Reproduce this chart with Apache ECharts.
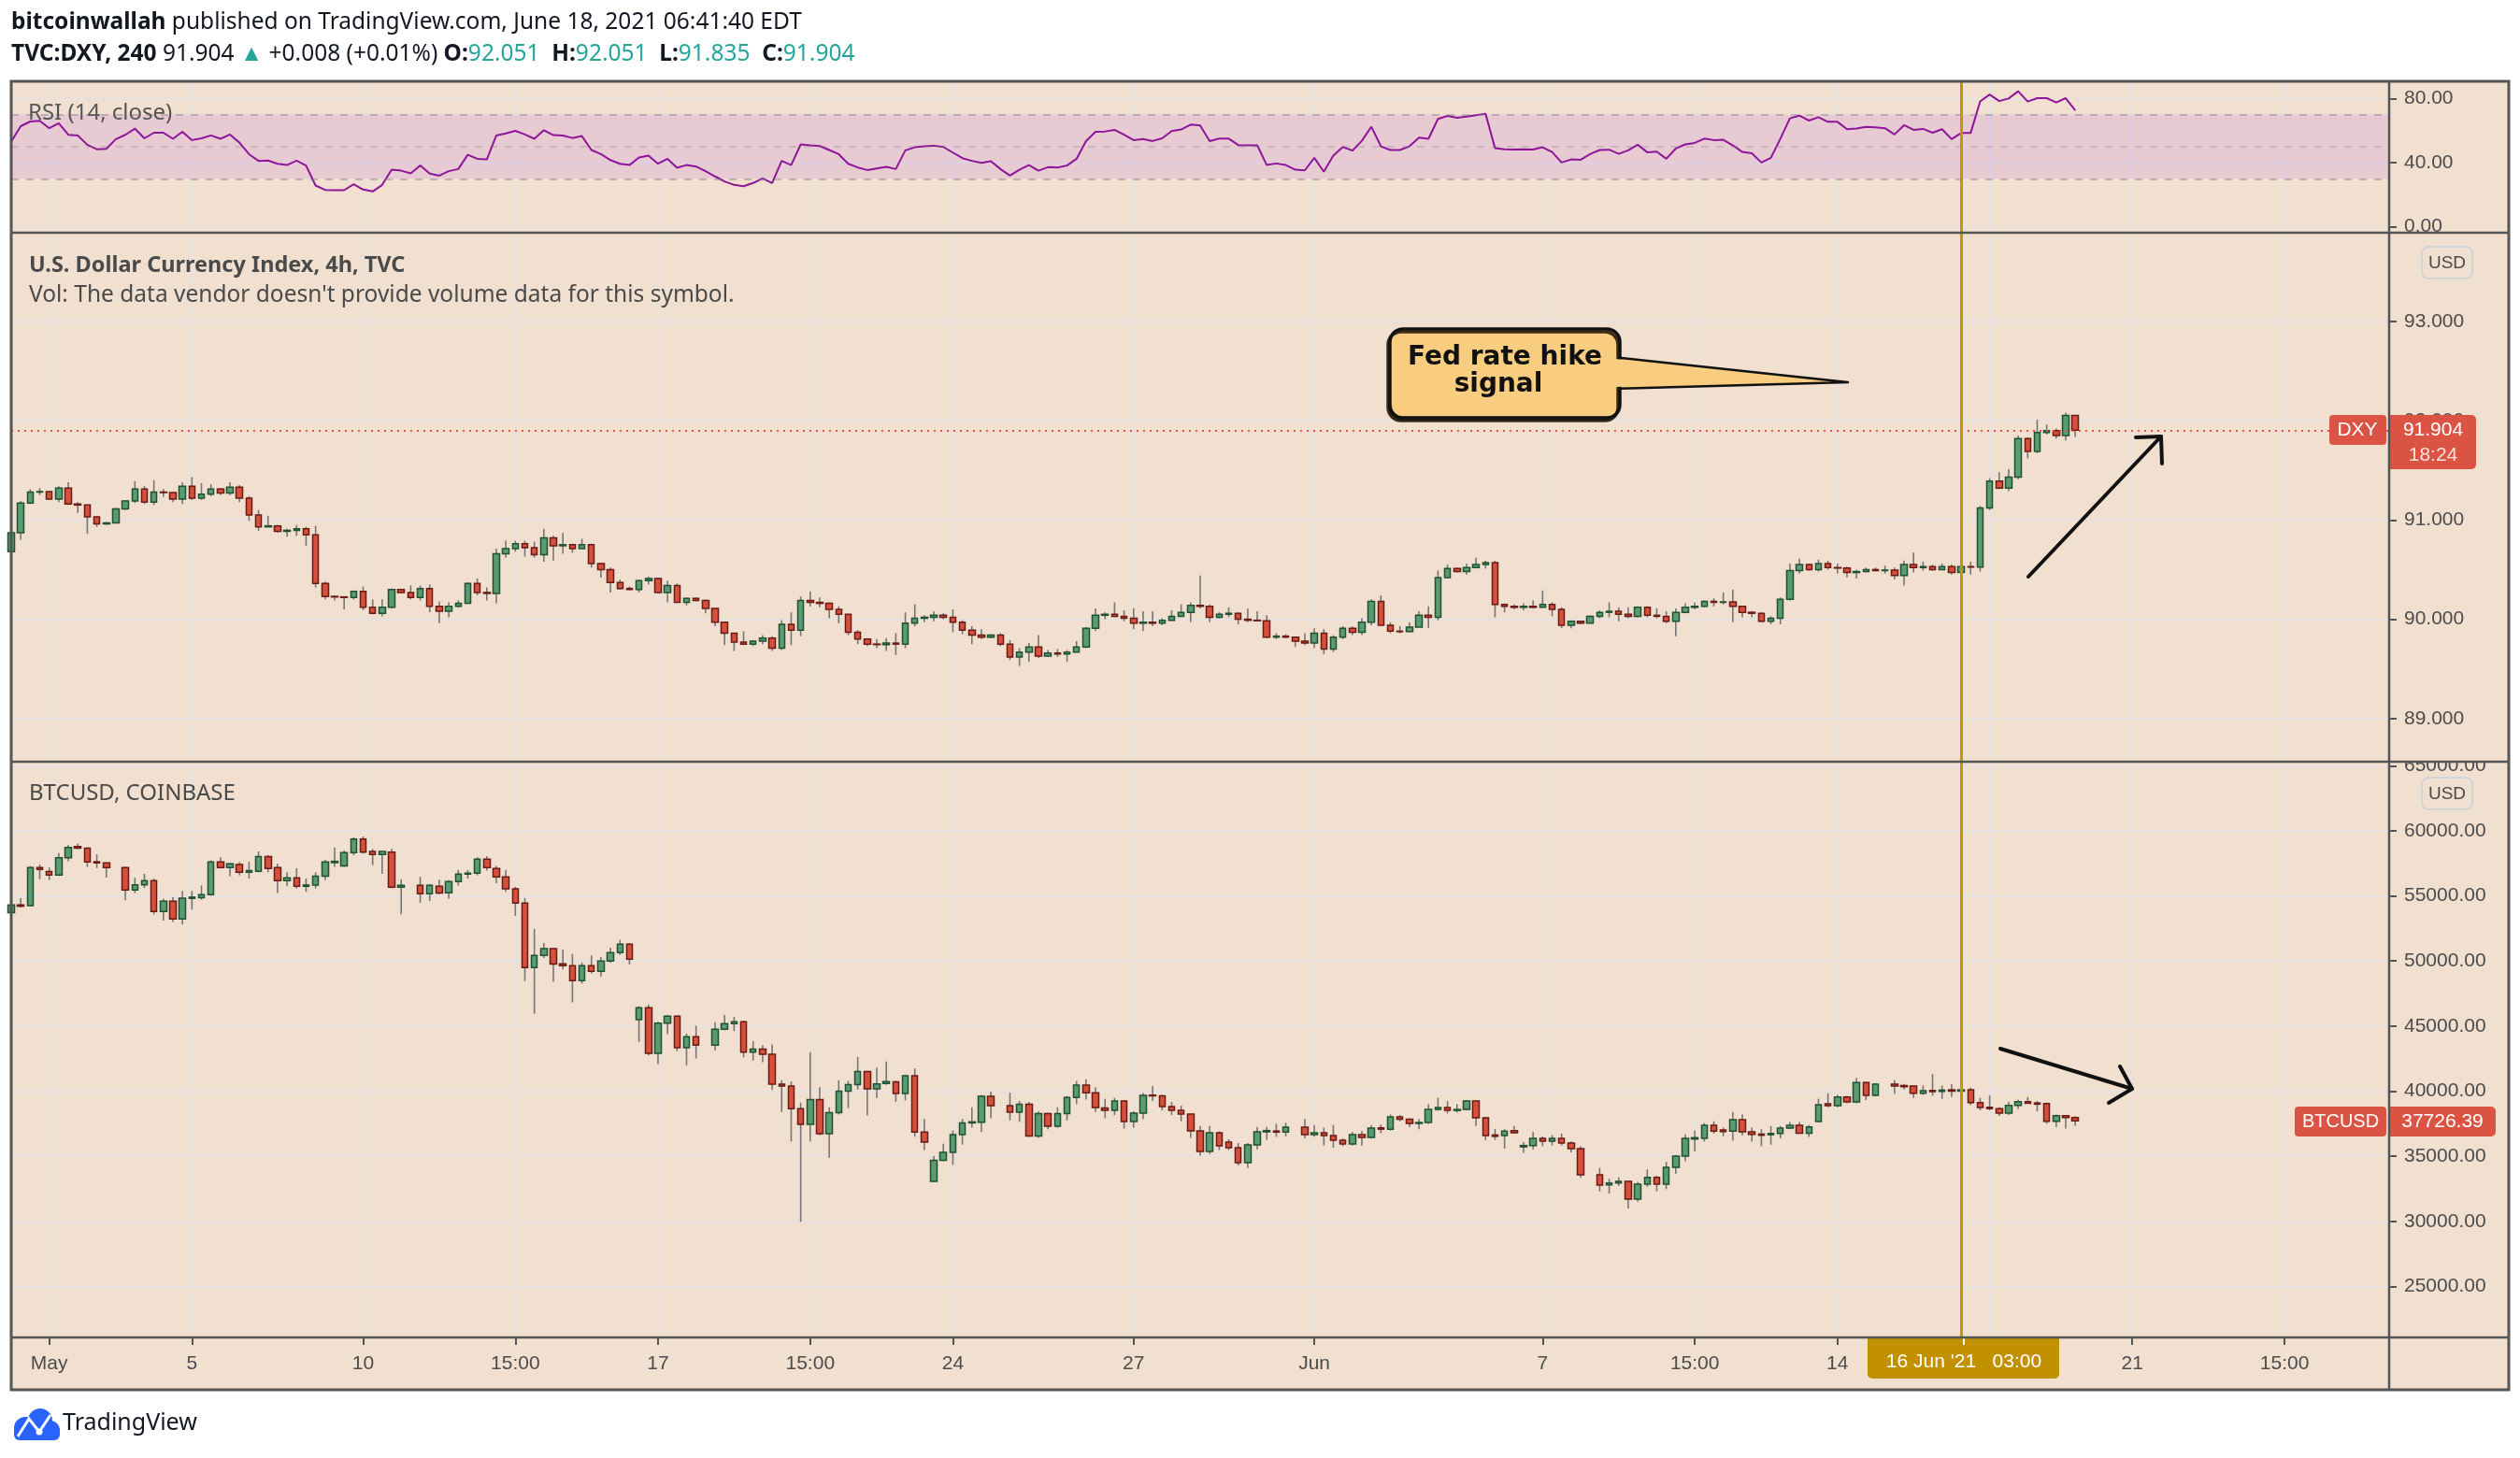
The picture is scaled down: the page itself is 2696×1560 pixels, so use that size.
<!DOCTYPE html>
<html>
<head>
<meta charset="utf-8">
<title>DXY vs BTCUSD</title>
<script src="https://cdn.jsdelivr.net/npm/echarts@6/dist/echarts.min.js"></script>
<style>
html, body { margin: 0; padding: 0; background: #ffffff; }
#chart { width: 2696px; height: 1560px; }
</style>
</head>
<body>
<div id="chart"></div>
<script>
// ---- x axis (4h bars, 251 slots, last 33 empty) ----
var slotCount = 251;
var xTickPos  = [4, 19, 37, 53, 68, 84, 99, 118, 137, 161, 177, 192, 208, 223, 239];
var xTickText = ['May', '5', '10', '15:00', '17', '15:00', '24', '27', 'Jun', '7', '15:00', '14', '', '21', '15:00'];
var markedBar = 205; // 16 Jun '21 03:00

// ---- y axis ticks ----
var rsiTicks = [0, 40, 80];
var dxyTicks = [89, 90, 91, 92, 93];
var btcTicks = [25000, 30000, 35000, 40000, 45000, 50000, 55000, 60000, 65000];

// ---- RSI (14, close) ----
var rsiValues = [
53.2,62.9,65.8,66.2,61.6,64.7,57.5,57.1,51.3,48.5,
48.7,54.8,57.5,61.4,55.3,58.8,58.8,55.0,59.4,54.2,
55.3,57.1,55.0,57.7,52.6,45.4,41.2,41.4,39.4,38.6,
41.4,38.3,25.8,23.1,22.9,22.9,26.6,23.3,22.1,26.2,
35.7,35.1,33.4,38.3,33.2,32.0,34.8,36.1,45.0,42.5,
42.1,57.1,58.4,60.0,57.7,55.0,60.4,57.3,57.1,55.5,
56.7,48.0,45.4,41.7,39.4,38.6,43.3,44.5,39.4,42.5,
36.9,38.6,37.7,34.8,31.5,28.4,26.2,25.4,27.4,30.3,
27.4,41.2,38.6,51.5,50.9,50.5,48.0,45.4,39.4,37.1,
35.5,36.5,37.5,36.1,47.8,49.7,50.3,50.7,49.9,46.4,
42.9,41.2,40.0,41.0,36.1,32.0,35.7,38.6,35.1,37.3,
37.1,38.3,42.5,53.6,59.4,59.6,60.6,57.5,54.2,54.8,
53.6,55.3,59.8,60.8,63.9,63.3,53.6,55.1,55.1,51.1,
50.9,50.9,38.6,39.6,38.6,35.7,35.3,43.1,34.4,44.5,
49.9,47.6,53.8,62.5,50.3,48.0,48.0,50.3,55.7,55.0,
67.4,69.3,68.2,68.9,69.7,70.7,49.1,48.5,48.3,48.5,
48.3,49.7,46.8,40.2,42.1,41.9,45.4,48.0,48.2,45.6,
47.8,51.3,46.6,47.0,42.5,48.9,51.5,52.4,55.1,54.2,
54.4,50.9,46.8,46.0,40.2,43.1,55.1,67.8,69.5,66.4,
68.5,65.6,65.6,61.0,61.4,62.5,62.1,61.6,57.7,63.5,
60.6,61.2,58.8,61.0,54.8,58.6,58.6,78.4,82.7,78.6,
80.2,84.7,78.3,80.4,80.4,77.7,80.4,72.8];
var rsiBands = [30, 50, 70];

// ---- TVC:DXY 4h (open = previous close) ----
var dxyFirstOpen = 90.68;
var dxyClose = [
90.87,91.17,91.28,91.285,91.21,91.32,91.16,91.15,91.03,90.96,
90.97,91.11,91.19,91.31,91.18,91.28,91.275,91.21,91.34,91.22,
91.26,91.31,91.27,91.33,91.22,91.05,90.93,90.94,90.885,90.895,
90.91,90.85,90.36,90.23,90.225,90.22,90.28,90.12,90.06,90.12,
90.30,90.27,90.22,90.31,90.13,90.08,90.13,90.16,90.36,90.27,
90.26,90.66,90.71,90.76,90.72,90.65,90.82,90.74,90.75,90.71,
90.75,90.56,90.50,90.37,90.31,90.30,90.39,90.41,90.27,90.34,
90.17,90.21,90.19,90.11,89.97,89.86,89.77,89.75,89.78,89.81,
89.71,89.95,89.89,90.19,90.17,90.16,90.10,90.05,89.87,89.80,
89.75,89.745,89.76,89.75,89.96,90.01,90.02,90.04,90.02,89.97,
89.89,89.84,89.82,89.84,89.75,89.62,89.67,89.72,89.63,89.66,
89.65,89.67,89.72,89.91,90.04,90.05,90.03,90.01,89.96,89.97,
89.96,89.99,90.03,90.07,90.14,90.13,90.02,90.05,90.06,90.00,
89.99,89.985,89.82,89.83,89.82,89.78,89.76,89.86,89.70,89.82,
89.91,89.87,89.97,90.18,89.94,89.88,89.875,89.92,90.04,90.02,
90.42,90.51,90.48,90.52,90.55,90.57,90.15,90.13,90.12,90.13,
90.12,90.15,90.10,89.94,89.98,89.96,90.03,90.07,90.08,90.05,
90.03,90.12,90.04,90.03,89.98,90.07,90.12,90.13,90.18,90.17,
90.175,90.13,90.07,90.06,89.98,90.01,90.20,90.49,90.55,90.50,
90.56,90.52,90.515,90.47,90.48,90.50,90.49,90.495,90.44,90.55,
90.52,90.53,90.50,90.53,90.47,90.53,90.525,91.12,91.39,91.32,
91.43,91.82,91.69,91.88,91.90,91.85,92.051,91.904];
var dxyHigh = [
90.90,91.19,91.31,91.32,91.29,91.34,91.38,91.18,91.15,91.03,
90.98,91.12,91.20,91.39,91.34,91.40,91.31,91.28,91.38,91.43,
91.37,91.36,91.32,91.38,91.35,91.24,91.10,91.04,90.95,90.91,
90.95,90.93,90.94,90.38,90.24,90.23,90.29,90.33,90.20,90.20,
90.31,90.30,90.34,90.34,90.35,90.18,90.17,90.19,90.37,90.41,
90.32,90.71,90.79,90.79,90.79,90.78,90.91,90.84,90.87,90.76,
90.81,90.76,90.57,90.52,90.40,90.33,90.40,90.43,90.42,90.39,
90.36,90.22,90.22,90.20,90.11,89.97,89.86,89.88,89.79,89.84,
89.83,89.99,90.07,90.23,90.28,90.22,90.17,90.13,90.05,89.89,
89.81,89.80,89.81,89.86,90.07,90.15,90.04,90.08,90.06,90.10,
89.99,89.93,89.90,89.85,89.86,89.79,89.71,89.76,89.84,89.69,
89.70,89.69,89.78,89.92,90.11,90.07,90.17,90.09,90.11,90.08,
90.08,90.01,90.09,90.15,90.17,90.44,90.15,90.07,90.12,90.07,
90.11,90.08,90.04,89.86,89.85,89.82,89.86,89.91,89.90,89.84,
89.93,89.93,90.01,90.20,90.24,89.97,89.93,89.97,90.08,90.13,
90.49,90.55,90.52,90.56,90.62,90.59,90.59,90.16,90.15,90.16,
90.19,90.29,90.17,90.12,89.99,89.98,90.04,90.09,90.17,90.12,
90.12,90.13,90.13,90.11,90.08,90.11,90.16,90.17,90.19,90.21,
90.27,90.30,90.13,90.08,90.07,90.03,90.22,90.56,90.61,90.56,
90.60,90.59,90.56,90.53,90.50,90.52,90.52,90.54,90.52,90.59,
90.67,90.58,90.55,90.56,90.55,90.55,90.58,91.14,91.42,91.48,
91.51,91.85,91.83,92.01,91.96,91.92,92.08,92.051];
var dxyLow = [
90.66,90.80,91.16,91.25,91.20,91.18,91.15,91.07,90.86,90.93,
90.95,90.98,91.10,91.17,91.16,91.15,91.23,91.18,91.16,91.20,
91.20,91.24,91.25,91.25,91.18,90.99,90.89,90.93,90.87,90.83,
90.84,90.74,90.32,90.20,90.19,90.10,90.20,90.09,90.05,90.03,
90.11,90.27,90.20,90.19,90.07,89.96,90.02,90.12,90.17,90.24,
90.19,90.16,90.62,90.68,90.63,90.62,90.58,90.59,90.66,90.67,
90.71,90.52,90.42,90.27,90.30,90.29,90.27,90.35,90.26,90.17,
90.17,90.14,90.18,90.06,89.93,89.74,89.68,89.74,89.73,89.75,
89.68,89.69,89.74,89.83,90.13,90.12,90.01,89.96,89.84,89.75,
89.73,89.71,89.68,89.64,89.71,89.93,89.97,89.98,90.00,89.87,
89.85,89.75,89.80,89.81,89.73,89.59,89.53,89.57,89.61,89.62,
89.62,89.57,89.67,89.71,89.88,90.00,90.03,89.98,89.90,89.88,
89.93,89.94,89.99,90.04,89.97,90.11,89.97,90.01,90.02,89.95,
89.97,89.98,89.81,89.80,89.81,89.72,89.74,89.71,89.65,89.67,
89.80,89.84,89.84,89.94,89.94,89.86,89.86,89.87,89.93,89.91,
89.99,90.41,90.47,90.45,90.51,90.51,90.02,90.07,90.10,90.09,
90.11,90.12,90.03,89.91,89.91,89.95,89.96,90.01,90.02,89.98,
90.01,90.02,90.02,90.01,89.96,89.83,90.06,90.10,90.12,90.13,
90.15,89.97,90.02,90.02,89.97,89.95,89.95,90.19,90.46,90.49,
90.48,90.50,90.46,90.42,90.41,90.47,90.48,90.46,90.40,90.34,
90.47,90.49,90.49,90.51,90.45,90.43,90.45,90.48,91.10,91.31,
91.29,91.41,91.62,91.67,91.86,91.82,91.80,91.835];
var dxyLast = 91.904;

// ---- COINBASE:BTCUSD on the DXY bars (null = no bar) ----
var btcOpen = [
53710,54310,54260,57180,56870,56600,57940,58800,58680,57630,
57540,null,57180,55460,55860,56170,53810,54590,53230,54810,
54860,55100,57610,57180,57420,56820,56890,58020,57180,56170,
56390,55740,55840,56510,57560,57300,58330,59380,58420,58180,
58370,55670,null,55810,55170,55740,55240,56100,56680,56750,
57820,57110,56460,55550,54450,49500,50430,50960,49790,49640,
48490,49640,49210,50000,50650,51290,45500,46410,42900,45220,
45770,43330,44190,null,43540,44760,45190,45340,42990,43230,
42830,40530,40390,38660,37440,39360,36730,38350,40000,40510,
41510,40170,40600,40720,39810,41180,36850,33070,34690,35290,
36650,37560,37610,39600,null,38880,38380,39000,36560,38280,
37300,38280,39520,40460,39880,38710,38520,39240,37660,38310,
39690,39640,38810,38520,38230,36940,35360,36800,36080,35650,
34500,35870,36870,36940,36850,null,37230,36650,36800,36580,
36220,35940,36650,36440,37180,37080,38020,37850,37520,37590,
38590,38740,38520,38590,39240,37950,36630,36580,36970,35720,
35820,36370,36150,36370,36010,35580,null,33570,32800,32950,
33070,31700,32850,33380,32850,34140,35000,36320,36370,37370,
37010,36920,37800,36870,36700,36650,36750,37160,37370,36770,
37660,39020,38880,39550,39170,40670,39670,null,40530,40430,
40390,39840,40050,39980,40100,40000,40100,39120,38760,38660,
38310,38900,39190,39090,39050,37680,38110,37970];
var btcClose = [
54310,54210,57180,57030,56600,57940,58730,58680,57610,57540,
57180,null,55460,55860,56170,53810,54590,53230,54830,54910,
55100,57610,57180,57460,56820,56940,58020,57110,56170,56390,
55740,55840,56510,57610,57660,58330,59380,58370,58180,58420,
55670,55810,null,55170,55810,55220,56100,56680,56750,57820,
57180,56460,55550,54450,49500,50430,50960,49760,49640,48490,
49640,49210,50000,50650,51290,50150,46410,42900,45220,45770,
43330,44190,43540,null,44760,45190,45340,42990,43230,42830,
40530,40390,38660,37440,39360,36730,38350,40000,40510,41510,
40170,40550,40740,39810,41180,36850,36080,34690,35290,36650,
37560,37640,39600,38880,null,38380,39000,36560,38280,37300,
38280,39520,40460,39880,38740,38520,39240,37660,38310,39670,
39640,38810,38520,38230,36940,35360,36800,35790,35650,34500,
35870,36870,36970,36850,37230,null,36650,36800,36580,36220,
35940,36650,36440,37160,37080,38020,37850,37520,37590,38590,
38740,38520,38590,39240,37950,36580,36530,36920,36800,35820,
36370,36150,36370,36010,35580,33570,null,32780,32950,33070,
31700,32850,33380,32850,34140,35000,36370,36420,37370,36920,
36890,37800,36870,36680,36610,36750,37160,37370,36770,37250,
38950,38880,39550,39170,40670,39670,40530,null,40390,40340,
39840,40030,39960,40080,40000,40100,39120,38740,38660,38310,
38900,39190,39070,39000,37680,38110,37970,37726.39];
var btcHigh = [
54430,54830,57300,57420,57180,58300,58900,59020,58730,58210,
57580,null,57230,56390,56700,56340,54790,54910,55380,55380,
55810,57730,57970,57540,57610,57630,58420,58140,57490,56820,
57130,56340,56820,57780,58730,58490,59500,59570,58610,58450,
58610,56270,null,56460,55910,56250,56220,56990,56990,57970,
58060,57300,57010,55700,54830,52470,51390,50960,50890,50530,
49880,50430,50310,51030,51630,51370,46530,46650,45340,45860,
45820,44430,45030,null,45290,45860,45700,45410,43850,43540,
43590,40840,40740,39120,42990,40310,38760,40840,40790,42630,
41560,41820,42280,40790,41270,41750,37870,35000,35960,36970,
37870,38760,39720,39960,null,39880,39240,39170,38450,38350,
38760,39640,40790,40910,40310,39410,39480,39310,38450,39880,
40390,39720,39170,38880,38280,37320,37320,36920,36300,36010,
36010,37250,37250,37490,37560,null,37870,37400,37200,37400,
36370,36850,36920,37400,37440,38210,38160,37900,37870,39000,
39480,39240,39000,39310,39310,37990,37090,37080,37320,36090,
36850,36530,36610,36730,36130,35770,null,34100,33260,33380,
33140,33020,33980,33500,34570,35100,36680,36970,37560,37680,
37200,38400,38210,37200,37080,37320,37320,37630,37630,37400,
39410,39840,39720,39640,41030,40720,40630,null,40840,40550,
40430,40430,41320,40430,40550,40430,40270,39480,39690,38760,
39170,39360,39550,39240,39120,38210,38160,38070];
var btcLow = [
53660,54120,54190,56290,56220,56530,57660,58610,57230,57150,
56410,null,54670,55220,55620,53570,53110,52990,52820,53950,
54710,55020,57110,56510,56580,56340,56820,56820,55220,55740,
55580,55310,55580,56220,57230,57230,58130,58250,57370,56700,
55580,53590,null,54470,54620,55140,54790,55790,56340,56580,
56940,55980,55310,53470,48450,45940,50240,48400,49360,46820,
48260,49050,48810,49880,50480,49740,43780,42750,42060,44380,
43070,41990,42510,null,43140,44690,44620,42590,42350,42230,
40080,38400,36130,29960,36130,36610,34880,38210,38690,40120,
38140,39480,40480,39190,39290,36490,35480,33020,34620,34330,
35890,37200,36850,37920,null,37750,37640,36490,36410,37080,
37200,37750,39000,39360,38400,37920,38160,37130,37200,37850,
39240,38520,38160,37680,36410,35050,35170,35480,35480,34290,
34090,35530,36250,36490,36530,null,36370,36490,35820,35650,
35770,35820,35820,36370,36770,36970,37680,37250,37080,37490,
38500,38280,38350,38520,37320,36250,36250,35580,36730,35250,
35530,35770,35820,35820,35290,33340,null,32300,32130,32710,
30990,31510,32660,32300,32470,33660,34620,35360,36130,36730,
36530,36200,36610,36130,35770,35890,36370,37080,36730,36490,
37630,38760,38760,39070,39070,39310,39600,null,39790,40120,
39480,39720,39640,39410,39550,39960,38930,38520,38520,38090,
38160,38640,39070,38450,37490,37250,37130,37320];
var btcLast = 37726.39;

// ---- look ----
var FONT = '"Liberation Sans", Arial, sans-serif';        // price / time scales
var FONT_UI = '"Noto Sans", "Liberation Sans", sans-serif'; // header and legends
var FONT_NOTE = '"DejaVu Sans", Verdana, sans-serif';      // drawing text
var PEACH = '#f1dfcf';
var GRID = '#e7e2df';
var FRAME = '#555555';
var AXIS_TEXT = '#4c4c4c';
var UP_FILL = '#5a9b72', UP_EDGE = '#1f5233';
var DN_FILL = '#d6503c', DN_EDGE = '#6a1b14';
var WICK = '#767676';
var ORANGE = '#c99400';
var BADGE = '#db5443';

// build category slots
var cats = [];
for (var i = 0; i < slotCount; i++) cats.push(String(i));

function isTick(index) {
    return xTickPos.indexOf(index) >= 0;
}

// candle bodies only (wicks drawn gray by a custom series)
function bodies(open, close) {
    return close.map(function (c, i) {
        var o = open(i);
        if (c == null || o == null) return ['-', '-', '-', '-'];
        return [o, c, Math.min(o, c), Math.max(o, c)];
    });
}
function wicks(high, low) {
    var out = [];
    high.forEach(function (h, i) {
        if (h != null) out.push([i, h, low[i]]);
    });
    return out;
}
function renderWick(params, api) {
    var x = api.value(0);
    var top = api.coord([x, api.value(1)]);
    var bot = api.coord([x, api.value(2)]);
    return {
        type: 'line',
        shape: { x1: top[0], y1: top[1], x2: bot[0], y2: bot[1] },
        style: { stroke: WICK, lineWidth: 1.6 }
    };
}

var dxyBodies = bodies(function (i) { return i ? dxyClose[i - 1] : dxyFirstOpen; }, dxyClose);
var btcBodies = bodies(function (i) { return btcOpen[i]; }, btcClose);

var candleStyle = {
    color: UP_FILL, color0: DN_FILL,
    borderColor: UP_EDGE, borderColor0: DN_EDGE,
    borderWidth: 1.5
};
var orangeLine = { xAxis: String(markedBar), lineStyle: { color: ORANGE, width: 3, type: 'solid' } };

function xAxisFor(g) {
    return {
        type: 'category', gridIndex: g, data: cats, boundaryGap: false,
        axisLine: { show: false },
        axisTick: { show: g === 2, interval: isTick, length: 8, lineStyle: { color: FRAME, width: 2 } },
        axisLabel: {
            show: g === 2, interval: isTick, margin: 18,
            fontFamily: FONT, fontSize: 21, color: AXIS_TEXT,
            formatter: function (v) { return xTickText[xTickPos.indexOf(+v)]; }
        },
        splitLine: { show: true, interval: isTick, lineStyle: { color: GRID, width: 2 } }
    };
}
function yAxisFor(g, min, max, ticks, digits) {
    return {
        type: 'value', gridIndex: g, position: 'right', min: min, max: max,
        axisLine: { show: false },
        axisTick: { show: true, length: 8, customValues: ticks, lineStyle: { color: FRAME, width: 2 } },
        axisLabel: {
            customValues: ticks, margin: 16, fontFamily: FONT, fontSize: 21, color: AXIS_TEXT,
            formatter: function (v) { return v.toFixed(digits); }
        },
        splitLine: { show: true, lineStyle: { color: GRID, width: 2 } }
    };
}

function txt(x, y, text, size, opts) {
    opts = opts || {};
    return {
        type: 'text', x: x, y: y, z: opts.z || 20, silent: true,
        style: {
            text: text, fontFamily: opts.font || FONT, fontSize: size,
            fontWeight: opts.bold ? 'bold' : 'normal',
            fill: opts.fill || '#131722',
            align: opts.align || 'left', verticalAlign: 'middle',
            rich: opts.rich
        }
    };
}
function hline(y, x1, x2) {
    return { type: 'line', z: 100, silent: true, shape: { x1: x1, y1: y, x2: x2, y2: y }, style: { stroke: FRAME, lineWidth: 2.5 } };
}
function poly(points, width) {
    return { type: 'polyline', z: 70, silent: true, shape: { points: points }, style: { stroke: '#111111', lineWidth: width, lineCap: 'round', lineJoin: 'round', fill: null } };
}

var headRich = {
    b: { fontFamily: FONT_UI, fontSize: 24.5, fontWeight: 'bold', fill: '#131722' },
    t: { fontFamily: FONT_UI, fontSize: 24.5, fill: '#26a69a' }
};

var graphics = [
    // chart background
    { type: 'rect', z: -100, silent: true, shape: { x: 12, y: 87, width: 2672, height: 1400 }, style: { fill: PEACH } },

    // header
    txt(12, 24, '{b|bitcoinwallah} published on TradingView.com, June 18, 2021 06:41:40 EDT', 24.5, { rich: headRich, font: FONT_UI }),
    txt(12, 58, '{b|TVC:DXY, 240} 91.904 {t|▲} +0.008 (+0.01%) {b|O:}{t|92.051}  {b|H:}{t|92.051}  {b|L:}{t|91.835}  {b|C:}{t|91.904}', 24.5, { rich: headRich, font: FONT_UI }),

    // pane legends
    txt(30, 121, 'RSI (14, close)', 24, { fill: '#555555', font: FONT_UI }),
    txt(31, 284, 'U.S. Dollar Currency Index, 4h, TVC', 23.5, { bold: true, fill: '#4a4a4a', font: FONT_UI }),
    txt(31, 316, "Vol: The data vendor doesn't provide volume data for this symbol.", 24.5, { fill: '#4a4a4a', font: FONT_UI }),
    txt(31, 849, 'BTCUSD, COINBASE', 24, { fill: '#4a4a4a', font: FONT_UI }),

    // half-hidden edge labels on the price scale
    { type: 'rect', z: 50, silent: true, shape: { x: 2558, y: 250, width: 124, height: 12 }, style: { fill: PEACH } },
    { type: 'rect', z: 50, silent: true, shape: { x: 2558, y: 801, width: 124, height: 13 }, style: { fill: PEACH } },

    // USD badges
    { type: 'rect', z: 55, silent: true, shape: { x: 2591, y: 264, width: 54, height: 34, r: 7 }, style: { fill: null, stroke: '#cfd5de', lineWidth: 2 } },
    txt(2618, 282, 'USD', 19, { align: 'center', fill: '#4a4a4a', z: 56 }),
    { type: 'rect', z: 55, silent: true, shape: { x: 2591, y: 832, width: 54, height: 34, r: 7 }, style: { fill: null, stroke: '#cfd5de', lineWidth: 2 } },
    txt(2618, 850, 'USD', 19, { align: 'center', fill: '#4a4a4a', z: 56 }),

    // DXY last price badges
    { type: 'rect', z: 60, silent: true, shape: { x: 2492, y: 444, width: 61, height: 32, r: 4 }, style: { fill: BADGE } },
    txt(2522, 460, 'DXY', 21, { align: 'center', fill: '#ffffff', z: 61 }),
    { type: 'rect', z: 60, silent: true, shape: { x: 2556, y: 444, width: 93, height: 58, r: [0, 5, 5, 0] }, style: { fill: BADGE } },
    txt(2603, 460, dxyLast.toFixed(3), 21, { align: 'center', fill: '#ffffff', z: 61 }),
    txt(2603, 487, '18:24', 21, { align: 'center', fill: 'rgba(255,255,255,0.82)', z: 61 }),

    // BTC last price badges
    { type: 'rect', z: 60, silent: true, shape: { x: 2455, y: 1184, width: 98, height: 32, r: 4 }, style: { fill: BADGE } },
    txt(2504, 1200, 'BTCUSD', 20, { align: 'center', fill: '#ffffff', z: 61 }),
    { type: 'rect', z: 60, silent: true, shape: { x: 2556, y: 1184, width: 114, height: 32, r: [0, 5, 5, 0] }, style: { fill: BADGE } },
    txt(2613, 1200, btcLast.toFixed(2), 21, { align: 'center', fill: '#ffffff', z: 61 }),

    // highlighted time label
    { type: 'rect', z: 60, silent: true, shape: { x: 1998, y: 1431, width: 205, height: 44, r: [0, 0, 5, 5] }, style: { fill: '#c29100' } },
    { type: 'line', z: 61, silent: true, shape: { x1: 2101, y1: 1431, x2: 2101, y2: 1439 }, style: { stroke: '#ffffff', lineWidth: 2 } },
    txt(2101, 1457, "16 Jun '21   03:00", 21, { align: 'center', fill: '#ffffff', z: 61 }),

    // callout "Fed rate hike signal"
    { type: 'polygon', z: 64, silent: true, shape: { points: [[1725, 382], [1977, 409], [1725, 416]] }, style: { fill: '#f8cd80', stroke: '#111111', lineWidth: 2.5, lineJoin: 'round' } },
    {
        type: 'rect', z: 65, silent: true, shape: { x: 1487, y: 352, width: 246, height: 95, r: 14 },
        style: { fill: '#f8cd80', stroke: '#111111', lineWidth: 3.5, shadowColor: 'rgba(40,25,10,0.9)', shadowOffsetX: -2, shadowOffsetY: 3, shadowBlur: 0 }
    },
    { type: 'polygon', z: 66, silent: true, shape: { points: [[1728, 384], [1760, 387.5], [1760, 413], [1728, 414]] }, style: { fill: '#f8cd80' } },
    txt(1610, 383, 'Fed rate hike', 28, { bold: true, align: 'center', fill: '#111111', z: 67, font: FONT_NOTE }),
    txt(1603, 412, 'signal', 28, { bold: true, align: 'center', fill: '#111111', z: 67, font: FONT_NOTE }),

    // hand-drawn arrows
    poly([[2170, 617], [2312, 467]], 4),
    poly([[2285, 468], [2312, 467], [2313, 496]], 4),
    poly([[2140, 1122], [2281, 1165]], 4),
    poly([[2268, 1141], [2281, 1165], [2256, 1180]], 4),

    // frame and pane dividers
    { type: 'rect', z: 100, silent: true, shape: { x: 12, y: 87, width: 2672, height: 1400 }, style: { fill: null, stroke: FRAME, lineWidth: 3 } },
    hline(249, 12, 2684),
    hline(815, 12, 2684),
    hline(1431, 12, 2684),
    { type: 'line', z: 100, silent: true, shape: { x1: 2556, y1: 87, x2: 2556, y2: 1487 }, style: { stroke: FRAME, lineWidth: 2.5 } },

    // TradingView logo
    { type: 'circle', z: 20, silent: true, shape: { cx: 27, cy: 1528, r: 12 }, style: { fill: '#2962ff' } },
    { type: 'circle', z: 20, silent: true, shape: { cx: 43, cy: 1520, r: 13 }, style: { fill: '#2962ff' } },
    { type: 'circle', z: 20, silent: true, shape: { cx: 54, cy: 1530, r: 10 }, style: { fill: '#2962ff' } },
    { type: 'rect', z: 20, silent: true, shape: { x: 15, y: 1528, width: 49, height: 13, r: [0, 0, 6, 6] }, style: { fill: '#2962ff' } },
    { type: 'polyline', z: 21, silent: true, shape: { points: [[19, 1537], [31, 1518], [42, 1532], [54, 1514]] }, style: { stroke: '#ffffff', lineWidth: 3, fill: null } },
    { type: 'circle', z: 22, silent: true, shape: { cx: 42, cy: 1532, r: 3.5 }, style: { fill: '#ffffff' } },
    txt(67, 1523, 'TradingView', 25, { fill: '#131722', font: FONT_UI })
];

var myChart = echarts.init(document.getElementById('chart'));
var option = {
    backgroundColor: '#ffffff',
    animation: false,
    grid: [
        { left: 12, top: 87, width: 2544, height: 162 },
        { left: 12, top: 249, width: 2544, height: 566 },
        { left: 12, top: 815, width: 2544, height: 616 }
    ],
    xAxis: [xAxisFor(0), xAxisFor(1), xAxisFor(2)],
    yAxis: [
        yAxisFor(0, -3.68, 90.92, rsiTicks, 2),
        yAxisFor(1, 88.566, 93.891, dxyTicks, 3),
        yAxisFor(2, 21074, 65315, btcTicks, 2)
    ],
    series: [
        {
            name: 'RSI', type: 'line', xAxisIndex: 0, yAxisIndex: 0,
            data: rsiValues, showSymbol: false, clip: true,
            lineStyle: { color: '#8e1599', width: 2 },
            markArea: {
                silent: true,
                itemStyle: { color: 'rgba(153,21,255,0.1)' },
                data: [[{ yAxis: rsiBands[0] }, { yAxis: rsiBands[2] }]]
            },
            markLine: {
                silent: true, symbol: 'none', label: { show: false },
                data: [
                    { yAxis: rsiBands[2], lineStyle: { color: 'rgba(120,123,134,0.55)', width: 1.5, type: [8, 8] } },
                    { yAxis: rsiBands[1], lineStyle: { color: 'rgba(120,123,134,0.35)', width: 1.5, type: [8, 8] } },
                    { yAxis: rsiBands[0], lineStyle: { color: 'rgba(120,123,134,0.55)', width: 1.5, type: [8, 8] } },
                    orangeLine
                ]
            }
        },
        {
            name: 'DXY wicks', type: 'custom', xAxisIndex: 1, yAxisIndex: 1,
            renderItem: renderWick, data: wicks(dxyHigh, dxyLow), clip: true,
            encode: { x: 0, y: [1, 2] }
        },
        {
            name: 'DXY', type: 'candlestick', xAxisIndex: 1, yAxisIndex: 1,
            data: dxyBodies, barWidth: 7, itemStyle: candleStyle, clip: true,
            markLine: {
                silent: true, symbol: 'none', label: { show: false },
                data: [
                    { yAxis: dxyLast, lineStyle: { color: '#e0503c', width: 2, type: [2, 5] } },
                    orangeLine
                ]
            }
        },
        {
            name: 'BTC wicks', type: 'custom', xAxisIndex: 2, yAxisIndex: 2,
            renderItem: renderWick, data: wicks(btcHigh, btcLow), clip: true,
            encode: { x: 0, y: [1, 2] }
        },
        {
            name: 'BTCUSD', type: 'candlestick', xAxisIndex: 2, yAxisIndex: 2,
            data: btcBodies, barWidth: 7, itemStyle: candleStyle, clip: true,
            markLine: {
                silent: true, symbol: 'none', label: { show: false },
                data: [orangeLine]
            }
        }
    ],
    graphic: graphics
};
myChart.setOption(option, true);
</script>
</body>
</html>
